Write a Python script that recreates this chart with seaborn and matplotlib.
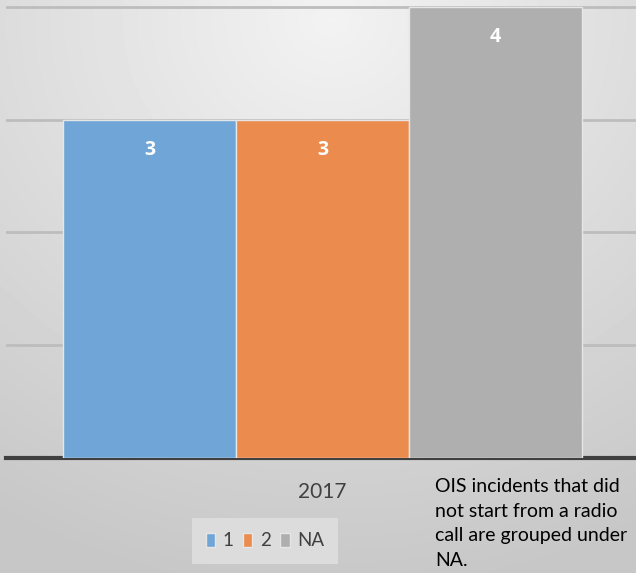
import numpy as np
import pandas as pd
import matplotlib
matplotlib.use("Agg")
import matplotlib.pyplot as plt
import seaborn as sns
from matplotlib.patches import Patch

# data
years = ["2017"]
radio_calls = ["1", "2", "NA"]
incidents = [3, 3, 4]
bar_colors = ["#6fa5d7", "#ec8b4e", "#afafaf"]
note = "OIS incidents that did\nnot start from a radio\ncall are grouped under\nNA."

df = pd.DataFrame({"year": years * len(radio_calls),
                   "calls": radio_calls,
                   "count": incidents})

sns.set_style("white")
plt.rcParams["font.family"] = ["Lato", "DejaVu Sans"]

fig = plt.figure(figsize=(6.36, 5.73), dpi=100)

# light grey radial background like the office chart
bg = fig.add_axes([0, 0, 1, 1])
yy, xx = np.mgrid[0:573, 0:636]
r = np.sqrt(((xx - 330) / 636.0) ** 2 + ((yy - 20) / 573.0) ** 2)
shade = 0.95 - 0.17 * np.clip(r / 1.0, 0, 1)
bg.imshow(shade, cmap="gray", vmin=0, vmax=1, aspect="auto", extent=[0, 1, 0, 1])
bg.axis("off")

ax = fig.add_axes([6 / 636, 1 - 458 / 573, 1 - 6 / 636, 458 / 573])
ax.set_facecolor("none")
sns.barplot(data=df, x="year", y="count", hue="calls", palette=bar_colors,
            width=0.8, edgecolor="#e6e6e6", linewidth=1, saturation=1,
            legend=False, ax=ax, zorder=3)

ax.set_xlim(-0.488, 0.483)
ax.set_ylim(0, 4.06)
ax.set_yticks([1, 2, 3, 4])
ax.yaxis.grid(True, color="#bdbdbd", linewidth=2, zorder=0)
ax.set_axisbelow(True)
ax.tick_params(axis="y", left=False, labelleft=False)
ax.tick_params(axis="x", bottom=False, pad=14, labelsize=15, labelcolor="#404040")
ax.set_xlabel("")
ax.set_ylabel("")
for s in ["left", "right", "top"]:
    ax.spines[s].set_visible(False)
ax.spines["bottom"].set_color("#404040")
ax.spines["bottom"].set_linewidth(3)

for c in ax.containers:
    ax.bar_label(c, padding=-29, color="white", fontweight="bold", fontsize=14,
                 family=["Open Sans", "DejaVu Sans"])

handles = [Patch(facecolor=col, edgecolor="#e6e6e6", label=lab)
           for col, lab in zip(bar_colors, radio_calls)]
fig.legend(handles=handles, ncol=3, loc="center", bbox_to_anchor=(265 / 636, 1 - 541 / 573),
           frameon=True, facecolor="#dcdcdc", edgecolor="none", fancybox=False,
           framealpha=1, fontsize=13.5, handlelength=0.5, handleheight=0.8,
           handletextpad=0.4, columnspacing=0.5, borderpad=0.75, borderaxespad=0,
           labelcolor="#404040")

fig.text(435 / 636, 1 - 478 / 573, note, fontsize=14, va="top", ha="left",
         color="black", linespacing=1.55)

fig.savefig("out.png", dpi=100)
